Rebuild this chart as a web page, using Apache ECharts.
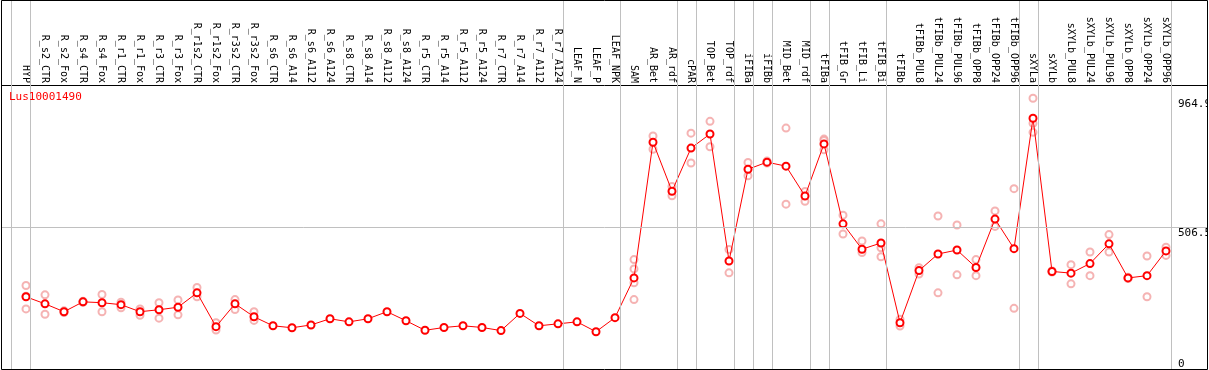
<!DOCTYPE html>
<html><head><meta charset="utf-8">
<script src="https://cdn.jsdelivr.net/npm/echarts@6/dist/echarts.min.js"></script>
<style>html,body{margin:0;padding:0;background:#fff}#c{width:1209px;height:370px}</style>
</head><body><div id="c"></div>
<script>
const chartTitle = 'Lus10001490';
const categories = ['HYP','R_s2_CTR','R_s2_Fox','R_s4_CTR','R_s4_Fox','R_r1_CTR','R_r1_Fox','R_r3_CTR','R_r3_Fox','R_r1s2_CTR','R_r1s2_Fox','R_r3s2_CTR','R_r3s2_Fox','R_s6_CTR','R_s6_A14','R_s6_A112','R_s6_A124','R_s8_CTR','R_s8_A14','R_s8_A112','R_s8_A124','R_r5_CTR','R_r5_A14','R_r5_A112','R_r5_A124','R_r7_CTR','R_r7_A14','R_r7_A112','R_r7_A124','LEAF_N','LEAF_P','LEAF_NPK','SAM','AR_Bet','AR_rdf','cPAR','TOP_Bet','TOP_rdf','iFIBa','iFIBb','MID_Bet','MID_rdf','tFIBa','tFIB_Gr','tFIB_Li','tFIB_Bi','tFIBb','tFIBb_PUL8','tFIBb_PUL24','tFIBb_PUL96','tFIBb_OPP8','tFIBb_OPP24','tFIBb_OPP96','sXYLa','sXYLb','sXYLb_PUL8','sXYLb_PUL24','sXYLb_PUL96','sXYLb_OPP8','sXYLb_OPP24','sXYLb_OPP96'];
const meanValues = [260,235,207,242,239,232,207,214,223,274,154,235,189,157,150,160,182,171,182,207,175,141,151,157,151,140,201,157,164,171,136,186,327,809,635,788,838,387,713,738,724,618,803,519,429,451,168,353,412,426,364,536,431,894,350,344,378,448,327,335,423];
const replicateValues = [
  [300,217,262],[267,198],[210,204],[244,240],[268,207],[241,221],[217,194],[239,184],[249,196],[293,260],
  [168,142],[250,215],[207,176],[],[],[],[],[],[],[],
  [],[],[],[],[],[],[],[],[],[],
  [],[],[392,359,310,250],[831,784],[652,619],[841,735],[883,793],[428,345],[737,690],[742,735],
  [859,589],[634,599],[820,815,782],[550,483],[458,417],[519,434,402],[180,156],[363,341],[547,274],[515,338],
  [392,335],[565,510],[644,219],[965,876,844],[352,348],[374,306],[419,335],[481,419],[329,325],[405,260],
  [436,407]
];
const yTickLabels = [0, 506.5, 964.9];
const referenceLine = 506.5;
const groupBreaks = [-0.8, 0.25, 28.25, 31.25, 34.25, 35.25, 37.25, 38.25, 39.25, 41.25, 42.25, 45.25, 52.25, 53.25, 60.25];

const FONT = 'DejaVu Sans Mono';
const idx = categories.map((_, i) => i);
const meanData = meanValues.map((v, i) => [i, v]);
const repData = [];
replicateValues.forEach((arr, i) => arr.forEach(v => repData.push([i, v])));

const chart = echarts.init(document.getElementById('c'), null, {renderer: 'canvas'});
chart.setOption({
  animation: false,
  backgroundColor: '#fff',
  title: {text: chartTitle, left: 9, top: 92, padding: 0,
    textStyle: {color: '#ff0000', fontFamily: FONT, fontSize: 11, fontWeight: 'normal'}},
  grid: {left: 2, right: 2, top: 0, bottom: 0, containLabel: false, outerBoundsMode: 'none'},
  xAxis: {
    type: 'value', position: 'top', offset: -85,
    min: -24/19, max: 1181/19,
    axisLine: {show: true, onZero: false, lineStyle: {color: '#000', width: 1}},
    axisTick: {show: false}, splitLine: {show: false},
    axisLabel: {customValues: idx, rotate: 90, margin: 2, color: '#000', fontFamily: FONT, fontSize: 10,
      formatter: v => categories[Math.round(v)] || ''}
  },
  yAxis: {
    type: 'value', position: 'right', min: 0, max: 1314,
    axisLine: {show: false}, axisTick: {show: false}, splitLine: {show: false},
    axisLabel: {inside: true, customValues: yTickLabels, margin: 29, align: 'left', color: '#000', fontFamily: FONT, fontSize: 11,
      verticalAlign: 'top', verticalAlignMinLabel: 'bottom', formatter: v => String(v)}
  },
  graphic: [
    {type: 'rect', shape: {x: 1208, y: 0, width: 10, height: 370}, style: {fill: '#fff'}, z: 99, silent: true},
    {type: 'rect', shape: {x: 1.5, y: 0.5, width: 1206, height: 369}, style: {fill: 'none', stroke: '#000', lineWidth: 1}, z: 100, silent: true}
  ],
  series: [
    {
      type: 'scatter', data: repData, symbol: 'emptyCircle', symbolSize: 7,
      itemStyle: {color: '#f2a0a0', borderWidth: 1.2}, z: 2,
      markLine: {silent: true, symbol: 'none', label: {show: false}, animation: false,
        lineStyle: {color: '#c0c0c0', width: 1, type: 'solid'},
        data: groupBreaks.map(b => ({xAxis: b})).concat([{yAxis: referenceLine}])}
    },
    {
      type: 'line', data: meanData, symbol: 'emptyCircle', symbolSize: 7, showAllSymbol: true,
      lineStyle: {color: '#ff0000', width: 1}, itemStyle: {color: '#ff0000', borderWidth: 1.5}, z: 3
    }
  ]
});
</script></body></html>
